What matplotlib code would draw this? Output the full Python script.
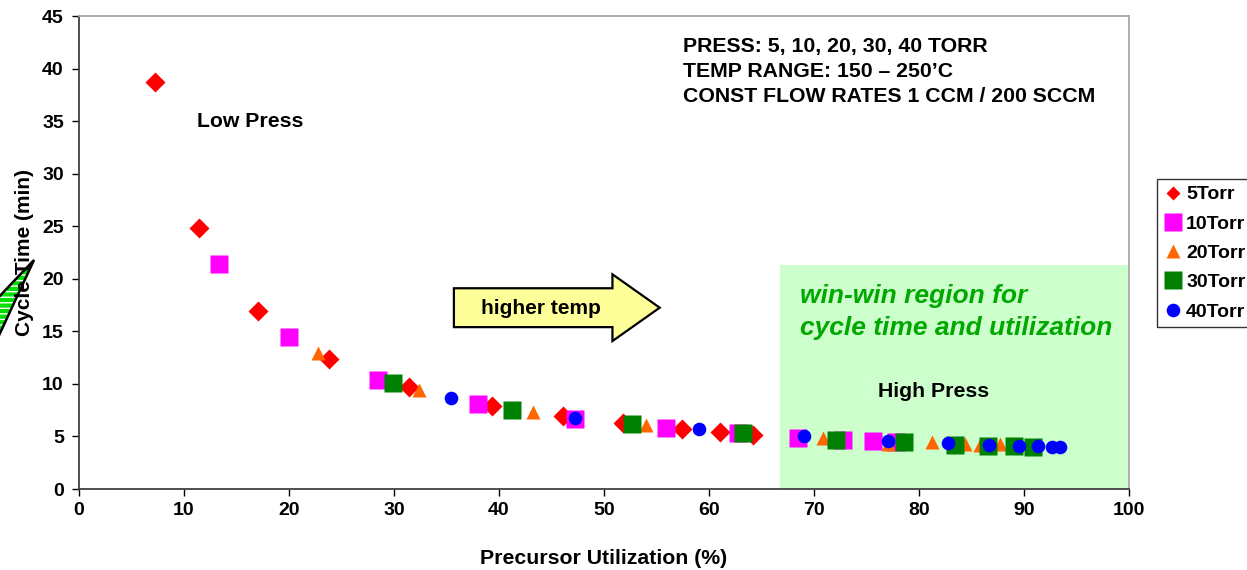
import matplotlib
matplotlib.use("Agg")
import matplotlib.pyplot as plt
from matplotlib.patches import Rectangle, FancyArrow, Polygon

plt.rcParams['font.family'] = ['Liberation Sans', 'DejaVu Sans']
plt.rcParams['font.weight'] = 'bold'

util_5 = [7.2, 11.4, 17.0, 23.8, 31.4, 39.3, 46.1, 51.8, 57.4, 61.0, 64.2]
time_5 = [38.7, 24.8, 16.9, 12.4, 9.7, 7.9, 6.9, 6.3, 5.7, 5.4, 5.15]

util_10 = [13.3, 20.0, 28.5, 38.0, 47.2, 55.9, 62.8, 68.5, 72.8, 75.6, 77.8]
time_10 = [21.4, 14.5, 10.4, 8.1, 6.7, 5.8, 5.3, 4.9, 4.7, 4.6, 4.5]

util_20 = [22.8, 32.4, 43.2, 54.0, 70.9, 77.0, 81.2, 84.4, 85.8, 87.7]
time_20 = [12.9, 9.4, 7.3, 6.1, 4.9, 4.3, 4.45, 4.3, 4.2, 4.25]

util_30 = [29.9, 41.2, 52.7, 63.2, 72.1, 78.6, 83.4, 86.6, 89.0, 90.9]
time_30 = [10.1, 7.5, 6.2, 5.3, 4.7, 4.5, 4.15, 4.1, 4.1, 4.0]

util_40 = [35.4, 47.2, 59.0, 69.0, 77.0, 82.8, 86.7, 89.5, 91.3, 92.7, 93.4]
time_40 = [8.7, 6.8, 5.7, 5.0, 4.6, 4.4, 4.2, 4.05, 4.05, 4.0, 3.95]

labels = ['5Torr', '10Torr', '20Torr', '30Torr', '40Torr']

fig = plt.figure(figsize=(12.47, 5.70), dpi=100)
ax = fig.add_axes([0.0634, 0.1421, 0.842, 0.8298])

# win-win background
ax.add_patch(Rectangle((66.8, 0), 33.1, 21.3, facecolor='#CCFFCC', edgecolor='none', zorder=0))

ax.plot(util_5, time_5, 'D', color='#FF0000', ms=10.2, mec='none', label=labels[0], zorder=3)
ax.plot(util_10, time_10, 's', color='#FF00FF', ms=12.4, mec='none', label=labels[1], zorder=3)
ax.plot(util_20, time_20, '^', color='#FF6600', ms=10.5, mec='none', label=labels[2], zorder=3)
ax.plot(util_30, time_30, 's', color='#008000', ms=12.4, mec='none', label=labels[3], zorder=3)
ax.plot(util_40, time_40, 'o', color='#0000FF', ms=9.8, mec='none', label=labels[4], zorder=3)

ax.set_xlim(0, 100)
ax.set_ylim(0, 45)
ax.set_xticks(range(0, 101, 10))
ax.set_yticks(range(0, 46, 5))
ax.tick_params(labelsize=14, direction='out', length=5, width=1, colors='black')
ax.tick_params(axis='y', pad=6)
ax.tick_params(axis='x', pad=4)
for lab in ax.get_xticklabels() + ax.get_yticklabels():
    lab.set_fontweight('bold')
ax.spines['left'].set_color('#404040')
ax.spines['bottom'].set_color('#404040')
ax.spines['top'].set_color('#A8A8A8')
ax.spines['right'].set_color('#A8A8A8')
for s in ax.spines.values():
    s.set_linewidth(1.3)

ax.set_xlabel('Precursor Utilization (%)', fontsize=15.3, fontweight='bold', labelpad=22)
ax.set_ylabel('Cycle Time (min)', fontsize=15, fontweight='bold', labelpad=6)

ax.text(57.5, 39.7, 'PRESS: 5, 10, 20, 30, 40 TORR\nTEMP RANGE: 150 \u2013 250\u2019C\nCONST FLOW RATES 1 CCM / 200 SCCM',
        fontsize=15.3, fontweight='bold', ha='left', va='center', linespacing=1.4)
ax.text(11.2, 35.0, 'Low Press', fontsize=15.3, fontweight='bold', ha='left', va='center')
ax.text(76.1, 9.3, 'High Press', fontsize=15.3, fontweight='bold', ha='left', va='center')
ax.text(68.7, 16.85, 'win-win region for\ncycle time and utilization', fontsize=19,
        fontweight='bold', style='italic', color='#00A800', ha='left', va='center', linespacing=1.38)

ax.add_patch(FancyArrow(35.7, 17.25, 19.6, 0, width=3.7, head_width=6.35, head_length=4.5,
                        length_includes_head=True, facecolor='#FFFF99', edgecolor='black', lw=1.6, zorder=2))
ax.text(44.0, 17.2, 'higher temp', fontsize=15, fontweight='bold', ha='center', va='center', zorder=4)

# cut-off arrow sliver at left edge, behind the axis label
W, H = 1247.0, 570.0
pts = [(-5 / W, 1 - 301 / H), (34 / W, 1 - 260 / H), (-5 / W, 1 - 344 / H)]
fig.add_artist(Polygon(pts, closed=True, transform=fig.transFigure, facecolor='#00DD00',
                       edgecolor='white', hatch='---', lw=0, zorder=-2))
fig.add_artist(Polygon(pts, closed=True, transform=fig.transFigure, facecolor='none',
                       edgecolor='black', lw=1.8, zorder=-1))

leg = ax.legend(loc='upper left', bbox_to_anchor=(1157 / W, 1 - 179 / H), bbox_transform=fig.transFigure,
                frameon=True, fancybox=False, edgecolor='black', markerscale=1.0,
                prop={'weight': 'bold', 'size': 14}, handletextpad=0.25, handlelength=0.9,
                borderpad=0.35, labelspacing=0.6, borderaxespad=0)
leg.get_frame().set_linewidth(1.0)
leg.legend_handles[0].set_markersize(7.0)

fig.savefig('out.png', dpi=100)
